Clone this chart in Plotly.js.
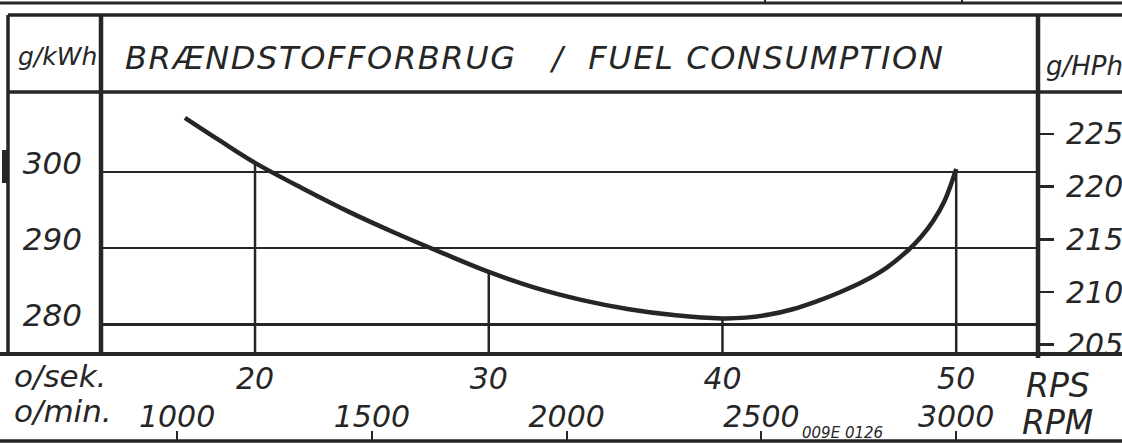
<!DOCTYPE html>
<html>
<head>
<meta charset="utf-8">
<script src="https://cdn.plot.ly/plotly-3.0.1.min.js"></script>
<style>
  html, body { margin: 0; padding: 0; background: #ffffff; }
  #chart { width: 1122px; height: 445px; }
</style>
</head>
<body>
<div id="chart"></div>
<script>
// ---- data ----
const rps  = [17, 18.5, 20, 22, 24, 26, 28, 30, 32, 34, 36, 38, 40, 41, 42, 43, 44, 45, 46, 47, 48, 48.5, 49, 49.5, 50];
const gkwh = [307.1, 304.1, 301.2, 297.9, 294.8, 292.0, 289.4, 286.9, 284.8, 283.2, 282.0, 281.2, 280.8, 280.9, 281.3, 282.0, 283.0, 284.2, 285.6, 287.4, 289.9, 291.5, 293.5, 296.2, 300.4];
const dropRps   = [20, 30, 40, 50];            // vertical lines from the curve down to the axis
const yTicks    = [280, 290, 300];             // g/kWh
const hpTicks   = [205, 210, 215, 220, 225];   // g/HPh
const rpsTicks  = [20, 30, 40, 50];            // o/sek. (RPS)
const rpmTicks  = [1000, 1500, 2000, 2500, 3000]; // o/min. (RPM)
const titleText = "BRÆNDSTOFFORBRUG\u00A0\u00A0\u00A0/\u00A0\u00A0FUEL CONSUMPTION";

// ---- layout geometry ----
const W = 1122, H = 445;
const L = 101, R = 1038, T = 92, PB = 354, B = 441;
const xRange  = [13.41, 53.50];
const yRange  = [276.13, 310.49];
const y2Range = [204.12, 228.98];
const x2Range = [xRange[0] * 60, xRange[1] * 60];
const X = px => (px - L) / (R - L);
const Y = py => (B - py) / (B - T);

const ink = '#262626';
const fam = 'DejaVu Sans';
const ital = (size) => ({ family: fam, size: size, style: 'italic', color: ink });

// drop lines built from the curve data
const dx = [], dy = [];
dropRps.forEach(v => {
  const i = rps.indexOf(v);
  dx.push(v, v, null);
  dy.push(gkwh[i], yRange[0], null);
});

const traces = [
  { x: dx, y: dy, mode: 'lines', line: { color: ink, width: 2.5 }, hoverinfo: 'skip', showlegend: false },
  { x: rps, y: gkwh, mode: 'lines', line: { color: ink, width: 4.5, shape: 'spline', smoothing: 1 }, hoverinfo: 'skip', showlegend: false },
  // carriers for the secondary axes (invisible)
  { x: rps, y: gkwh.map(v => v * 0.7355), yaxis: 'y2', mode: 'lines', line: { width: 0 }, opacity: 0, hoverinfo: 'skip', showlegend: false },
  { x: rps.map(v => v * 60), y: gkwh, xaxis: 'x2', mode: 'lines', line: { width: 0 }, opacity: 0, hoverinfo: 'skip', showlegend: false }
];

const ln = (x0, y0, x1, y1, w) => ({ type: 'line', xref: 'paper', yref: 'paper',
  x0: X(x0), y0: Y(y0), x1: X(x1), y1: Y(y1), line: { color: ink, width: w } });

const shapes = [
  ln(0, 3, W, 3, 3),
  ln(765, 0, 765, 4, 2),
  ln(962, 0, 962, 4, 2),
  ln(8, 15, W, 15, 3.5),
  ln(8, T, W, T, 3.5),
  ln(8, 15, 8, PB, 3.5),
  ln(L, 15, L, PB, 4.5),
  ln(R, 15, R, PB + 4, 4.5),
  ln(0, PB, W, PB, 4),
  ln(0, B, W, B, 3.5),
  { type: 'rect', xref: 'paper', yref: 'paper', x0: X(2), x1: X(9), y0: Y(183), y1: Y(150),
    fillcolor: ink, line: { width: 0 } }
];

const ann = (text, px, py, size, xanchor) => ({ text: text, xref: 'paper', yref: 'paper',
  x: X(px), y: Y(py), xanchor: xanchor, yanchor: 'middle', showarrow: false, font: ital(size) });

const annotations = [
  ann('g/kWh', 57, 57, 25, 'center'),
  ann('g/HPh', 1044, 66, 26, 'left'),
  ann('o/sek.', 12, 376, 31, 'left'),
  ann('o/min.', 12, 411, 31, 'left'),
  ann('RPS', 1024, 385, 33, 'left'),
  ann('RPM', 1020, 422, 33, 'left'),
  ann('009E 0126', 842, 433, 15, 'center')
];

const layout = {
  width: W, height: H,
  margin: { l: L, r: W - R, t: T, b: H - B, pad: 0 },
  paper_bgcolor: '#ffffff', plot_bgcolor: '#ffffff',
  showlegend: false,
  title: { text: titleText, font: ital(32), xref: 'container', yref: 'container',
           x: 125 / W, xanchor: 'left', y: 1 - 58 / H, yanchor: 'middle' },
  xaxis: { range: xRange, tickvals: rpsTicks, ticktext: rpsTicks.map(String), ticks: '',
           showgrid: false, zeroline: false, showline: false, tickfont: ital(30),
           ticklabelstandoff: 4, fixedrange: true },
  xaxis2: { overlaying: 'x', anchor: 'free', position: 0, side: 'top', range: x2Range,
            tickvals: rpmTicks, ticktext: rpmTicks.map(String), ticks: 'outside', ticklen: 10,
            tickwidth: 2, tickcolor: ink, showgrid: false, zeroline: false, showline: false,
            tickfont: ital(30), ticklabelstandoff: -8, fixedrange: true },
  yaxis: { domain: [Y(PB), 1], range: yRange, tickvals: yTicks, ticktext: yTicks.map(String),
           ticks: '', showgrid: true, gridcolor: ink, gridwidth: 2.5, zeroline: false,
           showline: false, tickfont: ital(31), ticklabelstandoff: 18, ticklabelshift: -9,
           fixedrange: true },
  yaxis2: { overlaying: 'y', side: 'right', domain: [Y(PB), 1], range: y2Range,
            tickvals: hpTicks, ticktext: hpTicks.map(String), ticks: 'outside', ticklen: 15,
            tickwidth: 2.5, tickcolor: ink, showgrid: false, zeroline: false, showline: false,
            tickfont: ital(30), ticklabelstandoff: 6, fixedrange: true },
  shapes: shapes,
  annotations: annotations
};

Plotly.newPlot('chart', traces, layout, { staticPlot: true, displayModeBar: false }).then(gd => {
  const t = gd.querySelector('text.gtitle');
  if (t) {
    const target = 943 - 125;
    const len = t.getComputedTextLength();
    const n = titleText.length - 1;
    if (len < target) t.style.letterSpacing = ((target - len) / n).toFixed(2) + 'px';
  }
});
</script>
</body>
</html>
